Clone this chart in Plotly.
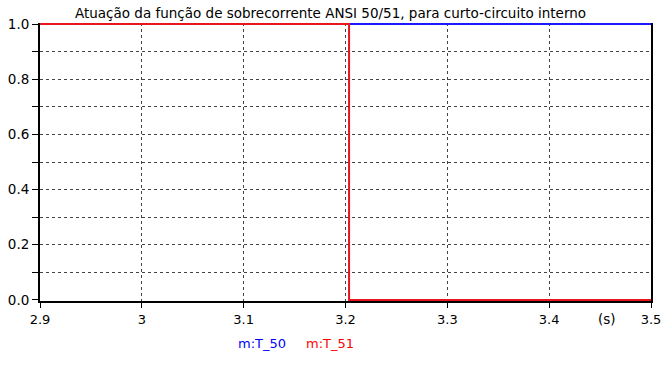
import plotly.graph_objects as go

# Data
t50_x = [2.9, 3.5]
t50_y = [1.0, 1.0]
t51_x = [2.9, 3.2035, 3.2035, 3.5]
t51_y = [1.0, 1.0, 0.0, 0.0]
series_names = ["m:T_50", "m:T_51"]
series_colors = ["#0000ff", "#ff0000"]
title_text = "Atuação da função de sobrecorrente ANSI 50/51, para curto-circuito interno"
x_unit = "(s)"
x_tickvals = [2.9, 3.0, 3.1, 3.2, 3.3, 3.4, 3.5]
x_ticktext = ["2.9", "3", "3.1", "3.2", "3.3", "3.4", "3.5"]
y_gridvals = [0.1, 0.2, 0.3, 0.4, 0.5, 0.6, 0.7, 0.8, 0.9]

FONT = "DejaVu Sans"
YR = [-0.004, 1.004]

fig = go.Figure()
# invisible helper trace so the grid-only overlay axis is drawn
fig.add_trace(go.Scatter(x=[t50_x[0]], y=[t50_y[0]], yaxis="y2", mode="markers",
                         marker=dict(opacity=0, size=1), showlegend=False, hoverinfo="skip"))
fig.add_trace(go.Scatter(x=t50_x, y=t50_y, mode="lines", name=series_names[0],
                         line=dict(color="#1a1aff", width=2), showlegend=False))
fig.add_trace(go.Scatter(x=t51_x, y=t51_y, mode="lines", name=series_names[1],
                         line=dict(color="#e8141e", width=2), showlegend=False))

fig.update_layout(
    width=661, height=376,
    margin=dict(l=40, r=10, t=23, b=75, autoexpand=False),
    paper_bgcolor="white", plot_bgcolor="white",
    font=dict(family=FONT, size=12, color="black"),
    title=dict(text=title_text, x=0.5, xanchor="center", y=0.965, yanchor="middle",
               font=dict(family=FONT, size=13.5, color="black")),
    yaxis2=dict(overlaying="y", anchor="x", side="left", range=YR, tickvals=y_gridvals,
                showticklabels=False, ticks="", showline=False, zeroline=False, showgrid=True,
                gridcolor="#444", griddash="dot", gridwidth=1, automargin=False),
)

fig.update_xaxes(
    range=[2.9, 3.5], automargin=False, ticklabeloverflow="allow",
    showline=True, linecolor="black", linewidth=2, layer="below traces",
    ticks="outside", ticklen=5, tickcolor="black", tickwidth=1,
    showgrid=True, gridcolor="#444", griddash="dot", gridwidth=1,
    zeroline=False, tickfont=dict(size=13),
    tickvals=x_tickvals, ticktext=x_ticktext,
)
fig.layout.yaxis.update(range=YR, tick0=0, dtick=0.2, tickformat=".1f", automargin=False,
    showline=True, linecolor="black", linewidth=2, mirror=True, layer="below traces",
    ticks="outside", ticklen=6, tickcolor="black", tickwidth=1,
    showgrid=False, zeroline=False, tickfont=dict(size=13.5),
    minor=dict(dtick=0.1, showgrid=False, ticks="outside", ticklen=6, tickcolor="black"))

fig.add_annotation(x=3.457, y=0, xref="x", yref="paper", yanchor="top", yshift=-8,
                   text=x_unit, showarrow=False, font=dict(size=13.5, color="black"))

fig.add_annotation(x=0.363, y=-0.12, xref="paper", yref="paper", xanchor="center", yanchor="top",
                   text=series_names[0], showarrow=False,
                   font=dict(size=13, color=series_colors[0]))
fig.add_annotation(x=0.475, y=-0.12, xref="paper", yref="paper", xanchor="center", yanchor="top",
                   text=series_names[1], showarrow=False,
                   font=dict(size=13, color=series_colors[1]))

fig.write_html("out.html")
